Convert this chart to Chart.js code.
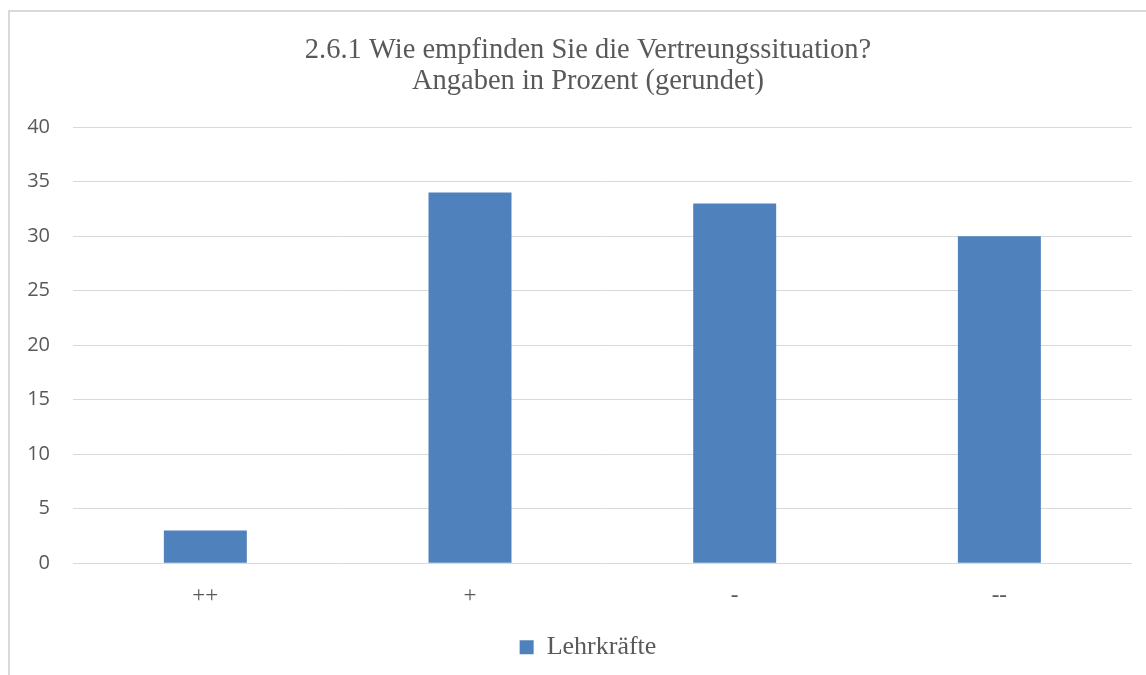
<!DOCTYPE html>
<html>
<head>
<meta charset="utf-8">
<script src="https://cdn.jsdelivr.net/npm/chart.js@4"></script>
<style>
  html, body { margin: 0; padding: 0; background: #fff; overflow: hidden; width: 1146px; height: 675px; }
  #frame { position: absolute; left: 8px; top: 10px; width: 1200px; height: 700px; border-left: 2px solid #d9d9d9; border-top: 2px solid #d9d9d9; }
  #c { position: absolute; left: 10px; top: 12px; }
</style>
</head>
<body>
<div id="frame"></div>
<canvas id="c" width="1156" height="663"></canvas>
<script>
const categories = ['++', '+', '-', '--'];
const seriesName = 'Lehrkräfte';
const seriesValues = [3, 34, 33, 30];
const titleLines = ['2.6.1 Wie empfinden Sie die Vertreungssituation?', 'Angaben in Prozent (gerundet)'];
const yTicksMax = 40;
const yTicksStep = 5;

const textColor = '#595959';

new Chart(document.getElementById('c'), {
  type: 'bar',
  data: {
    labels: categories,
    datasets: [{
      label: seriesName,
      data: seriesValues,
      backgroundColor: '#4f81bd',
      borderWidth: 0,
      barPercentage: 0.3135,
      categoryPercentage: 1.0
    }]
  },
  options: {
    responsive: false,
    animation: false,
    devicePixelRatio: 1,
    layout: { padding: { left: 34.3, right: 34.3, top: 0, bottom: 4.7 } },
    plugins: {
      title: {
        display: true,
        text: titleLines,
        color: textColor,
        font: { family: '"Liberation Serif", "Times New Roman", serif', size: 28.5, weight: 'normal', lineHeight: 1.1 },
        padding: { top: 22.5, bottom: 30 }
      },
      legend: {
        display: true,
        position: 'bottom',
        labels: {
          color: textColor,
          font: { family: '"Liberation Serif", "Times New Roman", serif', size: 26 },
          boxWidth: 14,
          boxHeight: 14,
          padding: 10
        }
      },
      tooltip: { enabled: false }
    },
    scales: {
      x: {
        grid: { display: false },
        border: { display: false },
        ticks: {
          color: textColor,
          font: { family: '"Liberation Serif", "Times New Roman", serif', size: 23 },
          padding: 11
        },
        afterFit: (s) => { s.height = 61; }
      },
      y: {
        min: 0,
        max: yTicksMax,
        grid: { color: '#d9d9d9', lineWidth: 1, drawTicks: false },
        border: { display: false },
        ticks: {
          stepSize: yTicksStep,
          color: textColor,
          font: { family: '"Open Sans", sans-serif', size: 20 },
          padding: 23
        },
        afterFit: (s) => { s.width = 28.7; },
        afterUpdate: (s) => { s._computeLabelArea = () => undefined; }
      }
    }
  }
});
</script>
</body>
</html>
